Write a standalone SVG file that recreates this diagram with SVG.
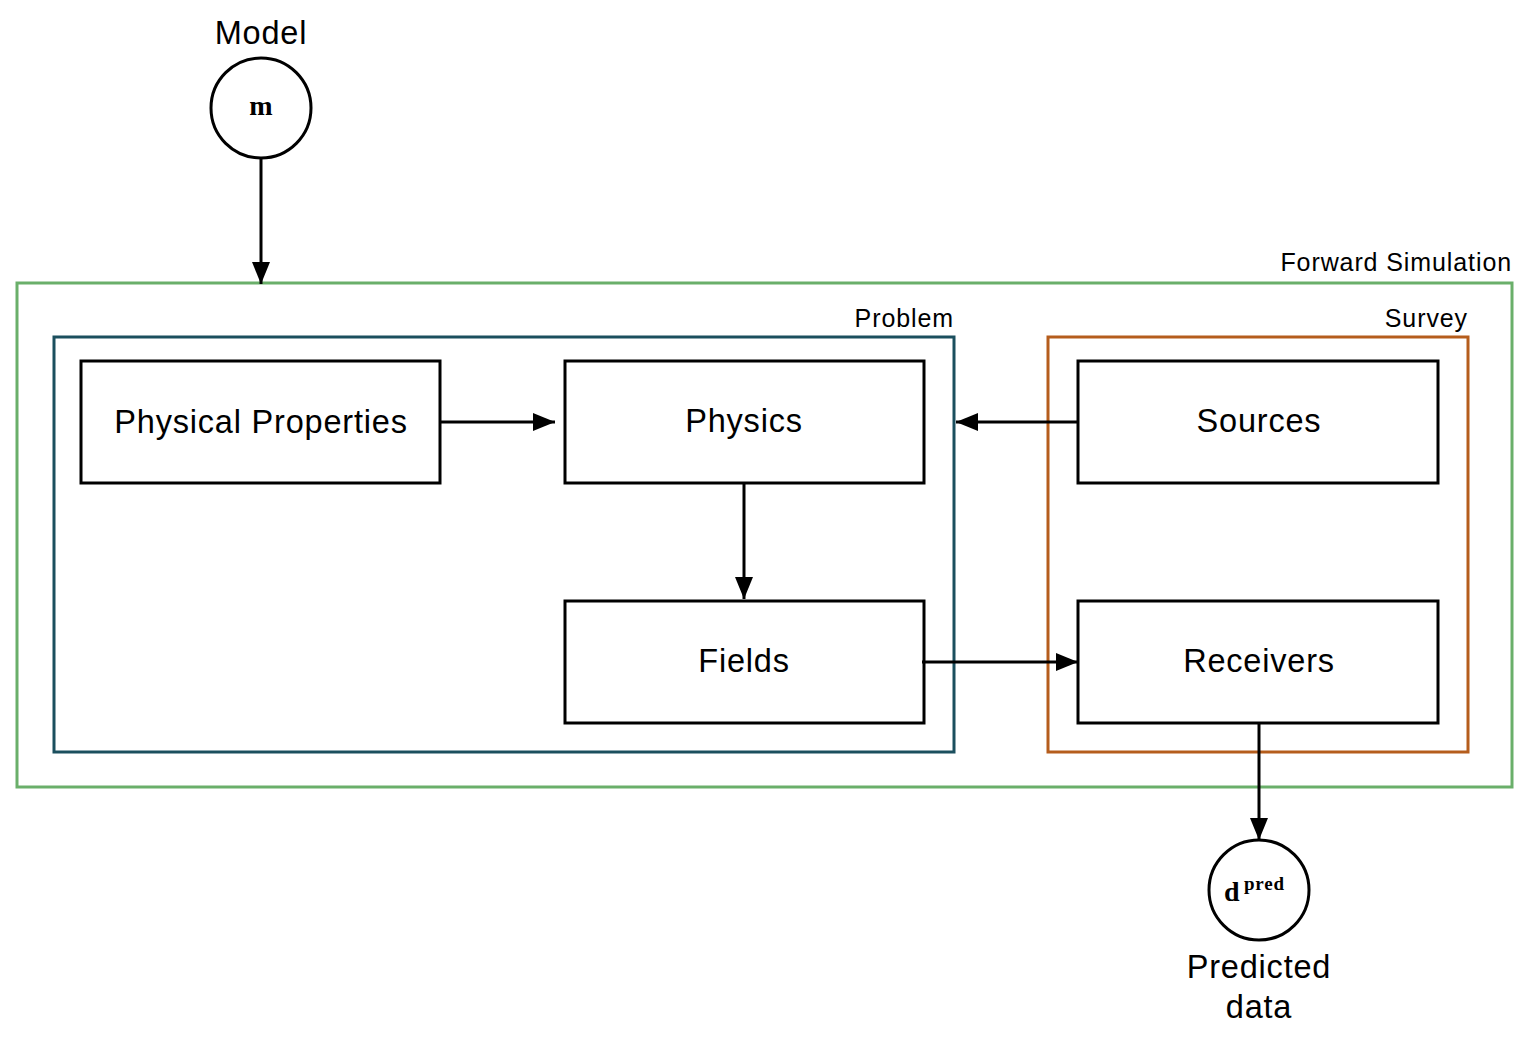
<svg xmlns="http://www.w3.org/2000/svg" width="1534" height="1044" viewBox="0 0 1534 1044">
<style>
.box{fill:#fff;stroke:#000;stroke-width:3}
.lbl{font-family:"Liberation Sans",Arial,sans-serif;font-size:32.5px;letter-spacing:0.8px;fill:#000;text-anchor:middle}
.grp{font-family:"Liberation Sans",Arial,sans-serif;font-size:25px;letter-spacing:0.9px;fill:#000;text-anchor:end}
.math{font-family:"Liberation Serif","DejaVu Serif",serif;font-weight:bold;fill:#000}
.edge{stroke:#000;stroke-width:3;fill:none}
</style>
<defs>
<marker id="ah" markerWidth="22" markerHeight="18" refX="22" refY="9" orient="auto" markerUnits="userSpaceOnUse">
<path d="M0,0 L22,9 L0,18 Z" fill="#000"/>
</marker>
</defs>
<rect width="1534" height="1044" fill="#fff"/>
<g id="forward-simulation">
<rect x="17" y="283" width="1495" height="504" fill="none" stroke="#6aaf6a" stroke-width="3"/>
<text class="grp" x="1512" y="271">Forward Simulation</text>
</g>
<g id="problem">
<rect x="54" y="337" width="900" height="415" fill="none" stroke="#1b4f5e" stroke-width="3"/>
<text class="grp" x="954" y="327">Problem</text>
</g>
<g id="survey">
<rect x="1048" y="337" width="420" height="415" fill="none" stroke="#b55d1c" stroke-width="3"/>
<text class="grp" x="1468" y="327">Survey</text>
</g>
<g id="model">
<text class="lbl" x="261" y="44">Model</text>
<circle cx="261" cy="108" r="50" fill="#fff" stroke="#000" stroke-width="3"/>
<text class="math" x="261" y="115" font-size="28" text-anchor="middle">m</text>
</g>
<g id="physical-properties">
<rect class="box" x="81" y="361" width="359" height="122"/>
<text class="lbl" x="261" y="433">Physical Properties</text>
</g>
<g id="physics">
<rect class="box" x="565" y="361" width="359" height="122"/>
<text class="lbl" x="744" y="432">Physics</text>
</g>
<g id="fields">
<rect class="box" x="565" y="601" width="359" height="122"/>
<text class="lbl" x="744" y="672">Fields</text>
</g>
<g id="sources">
<rect class="box" x="1078" y="361" width="360" height="122"/>
<text class="lbl" x="1259" y="432">Sources</text>
</g>
<g id="receivers">
<rect class="box" x="1078" y="601" width="360" height="122"/>
<text class="lbl" x="1259" y="672">Receivers</text>
</g>
<g id="predicted-data">
<circle cx="1259" cy="890" r="50" fill="#fff" stroke="#000" stroke-width="3"/>
<text class="math" x="1224" y="901" font-size="28">d</text>
<text class="math" x="1244" y="890" font-size="19" letter-spacing="0.8">pred</text>
<text class="lbl" x="1259" y="978">Predicted</text>
<text class="lbl" x="1259" y="1018">data</text>
</g>
<g id="connectors">
<line class="edge" x1="261" y1="158" x2="261" y2="284" marker-end="url(#ah)"/>
<line class="edge" x1="440" y1="422" x2="555" y2="422" marker-end="url(#ah)"/>
<line class="edge" x1="1078" y1="422" x2="956" y2="422" marker-end="url(#ah)"/>
<line class="edge" x1="744" y1="483" x2="744" y2="599" marker-end="url(#ah)"/>
<line class="edge" x1="922" y1="662" x2="1078" y2="662" marker-end="url(#ah)"/>
<line class="edge" x1="1259" y1="723" x2="1259" y2="840" marker-end="url(#ah)"/>
</g>
</svg>
